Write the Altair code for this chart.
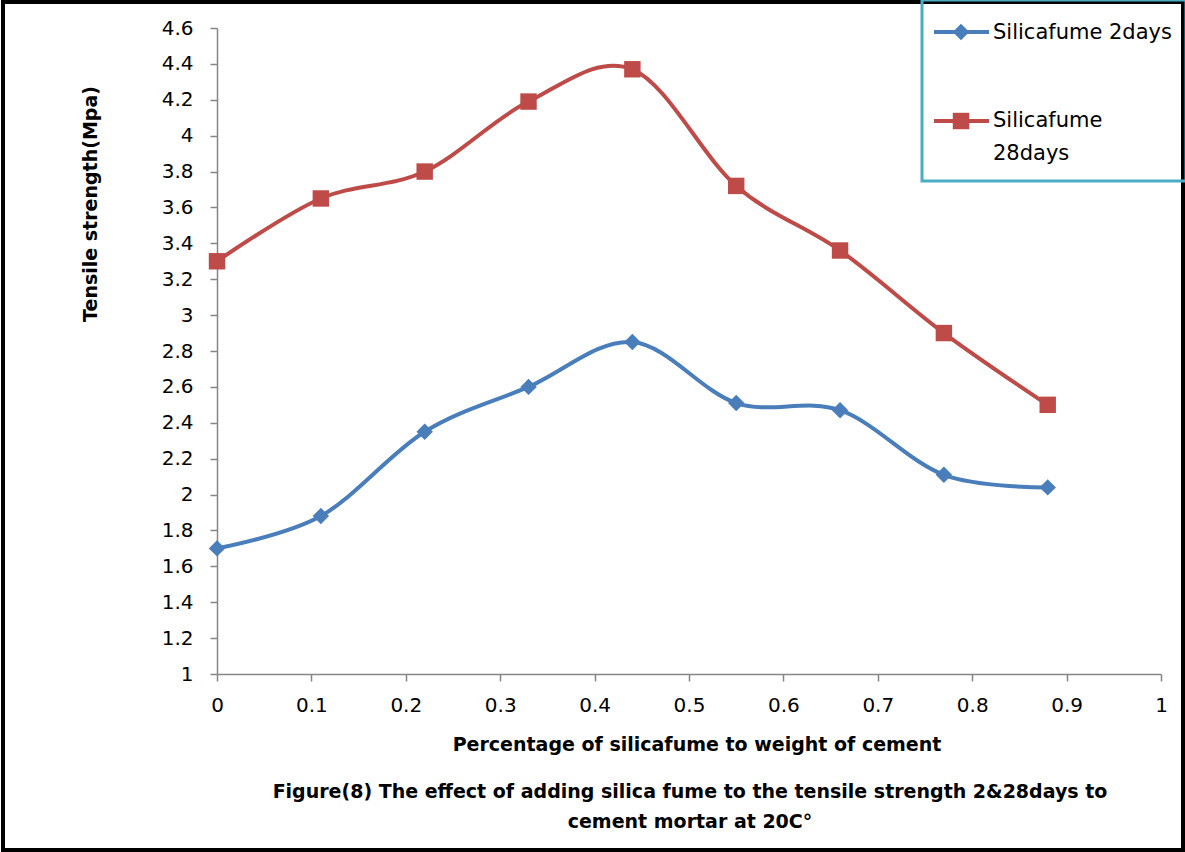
import altair as alt
import pandas as pd

# ---- data ----
x_vals = [0, 0.11, 0.22, 0.33, 0.44, 0.55, 0.66, 0.77, 0.88]
days2 = [1.70, 1.88, 2.35, 2.60, 2.85, 2.51, 2.47, 2.11, 2.04]
days28 = [3.30, 3.65, 3.80, 4.19, 4.37, 3.72, 3.36, 2.90, 2.50]
series_names = ["Silicafume 2days", "Silicafume 28days"]
series_colors = ["#4A7EBB", "#BE4B48"]
series_shapes = ["diamond", "square"]
x_ticks = [0, 0.1, 0.2, 0.3, 0.4, 0.5, 0.6, 0.7, 0.8, 0.9, 1]
y_ticks = [1, 1.2, 1.4, 1.6, 1.8, 2, 2.2, 2.4, 2.6, 2.8, 3, 3.2, 3.4, 3.6, 3.8, 4, 4.2, 4.4, 4.6]
y_title = "Tensile strength(Mpa)"
x_title = "Percentage of silicafume to weight of cement"
caption1 = "Figure(8) The effect of adding silica fume to the tensile strength 2&28days to"
caption2 = "cement mortar at 20C°"

FONT = "DejaVu Sans"
W, H = 944, 646
PL, PT = 217, 28

rows = []
for xv, a, b in zip(x_vals, days2, days28):
    rows.append({"x": xv, "y": a, "s": series_names[0]})
    rows.append({"x": xv, "y": b, "s": series_names[1]})
df = pd.DataFrame(rows)

one = pd.DataFrame({"a": [0]})

xenc = alt.X("x:Q", scale=alt.Scale(domain=[0, 1], nice=False, zero=False),
             axis=alt.Axis(values=x_ticks, title=None, grid=False, format="~g",
                           labelFlush=False, labelOverlap=False,
                           domainColor="#868686", tickColor="#868686", domainWidth=1.5,
                           tickWidth=1.5, tickSize=7, labelFontSize=20, labelFont=FONT,
                           labelColor="#000000", labelPadding=14))
yenc = alt.Y("y:Q", scale=alt.Scale(domain=[1, 4.6], nice=False, zero=False),
             axis=alt.Axis(values=y_ticks, title=None, grid=False, format="~g",
                           labelFlush=False, labelOverlap=False,
                           domainColor="#868686", tickColor="#868686", domainWidth=1.5,
                           tickWidth=1.5, tickSize=7, labelFontSize=20, labelFont=FONT,
                           labelColor="#000000", labelPadding=17))
cenc = alt.Color("s:N", scale=alt.Scale(domain=series_names, range=series_colors), legend=None)
senc = alt.Shape("s:N", scale=alt.Scale(domain=series_names, range=series_shapes), legend=None)

lines = alt.Chart(df).mark_line(interpolate="cardinal", strokeWidth=4).encode(
    x=xenc, y=yenc, color=cenc, detail="s:N")
points = alt.Chart(df).mark_point(filled=True, size=270, opacity=1).encode(
    x=xenc, y=yenc, color=cenc, shape=senc)

def px(v):
    return alt.value(v - PL)

def py(v):
    return alt.value(v - PT)

frame = alt.Chart(one).mark_rect(fillOpacity=0, stroke="#000000", strokeWidth=4).encode(
    x=px(3), x2=px(1183), y=py(2), y2=py(850))

legend_box = alt.Chart(one).mark_rect(fillOpacity=0, stroke="#4BACC6", strokeWidth=3).encode(
    x=px(922), x2=px(1186), y=py(0), y2=py(181))

leg_line1 = alt.Chart(one).mark_rule(color=series_colors[0], strokeWidth=4).encode(
    x=px(934), x2=px(989), y=py(32))
leg_line2 = alt.Chart(one).mark_rule(color=series_colors[1], strokeWidth=4).encode(
    x=px(934), x2=px(989), y=py(121))
leg_pt1 = alt.Chart(one).mark_point(filled=True, size=270, opacity=1, shape="diamond",
                                    color=series_colors[0]).encode(x=px(961), y=py(32))
leg_pt2 = alt.Chart(one).mark_point(filled=True, size=270, opacity=1, shape="square",
                                    color=series_colors[1]).encode(x=px(961), y=py(121))

def txt(t, x, y, size=20, bold=False, align="left", angle=0):
    kw = dict(text=t, font=FONT, fontSize=size, align=align, baseline="middle", color="#000000")
    if bold:
        kw["fontWeight"] = "bold"
    if angle:
        kw["angle"] = angle
    return alt.Chart(one).mark_text(**kw).encode(x=px(x), y=py(y))

leg_t1 = txt("Silicafume 2days", 993, 33, size=21)
leg_t2 = txt("Silicafume", 993, 121, size=21)
leg_t3 = txt("28days", 993, 154, size=21)

ytitle = txt(y_title, 91, 204, size=19, bold=True, align="center", angle=270)
xtitle = txt(x_title, 697, 745, size=19, bold=True, align="center")
cap1 = txt(caption1, 690, 792, size=19, bold=True, align="center")
cap2 = txt(caption2, 690, 822, size=19, bold=True, align="center")

chart = alt.layer(
    frame, legend_box, lines, points,
    leg_line1, leg_line2, leg_pt1, leg_pt2, leg_t1, leg_t2, leg_t3,
    ytitle, xtitle, cap1, cap2,
).properties(
    width=W, height=H,
    padding={"left": PL, "top": PT, "right": 1185 - PL - W, "bottom": 852 - PT - H},
    autosize=alt.AutoSizeParams(type="none"),
    background="#FFFFFF",
).configure_view(stroke=None)

chart.save("out.html", embed_options={"renderer": "svg", "actions": False})
